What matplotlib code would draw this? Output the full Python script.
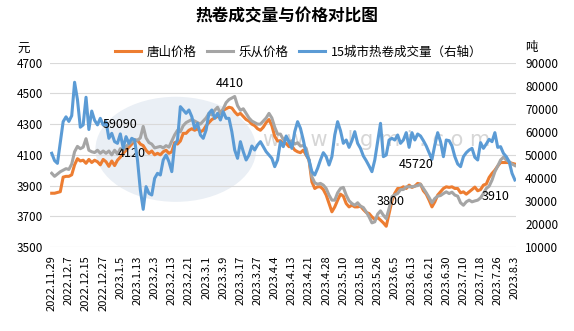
import matplotlib
matplotlib.use("Agg")
import matplotlib.pyplot as plt
from matplotlib.patches import Ellipse

plt.rcParams['font.family'] = ['Noto Sans CJK SC', 'DejaVu Sans']

# 唐山价格 (元/吨)
tangshan = [
    3850, 3850, 3855, 3860, 3955, 3960, 3960, 3970, 4035, 4075,
    4060, 4065, 4045, 4070, 4050, 4065, 4055, 4035, 4070, 4055,
    4025, 4060, 4030, 4065, 4085, 4110, 4130, 4150, 4170, 4190,
    4195, 4170, 4160, 4130, 4110, 4125, 4100, 4110, 4100, 4120,
    4130, 4110, 4120, 4180, 4170, 4190, 4240, 4240, 4260, 4270,
    4260, 4270, 4250, 4260, 4290, 4310, 4330, 4340, 4350, 4380,
    4390, 4400, 4410, 4405, 4380, 4360, 4370, 4350, 4330, 4320,
    4300, 4290, 4270, 4260, 4280, 4310, 4330, 4290, 4220, 4190,
    4192, 4170, 4174, 4153, 4157, 4131, 4120, 4114, 4131, 4098,
    4066, 3924, 3881, 3892, 3892, 3874, 3838, 3783, 3729, 3761,
    3805, 3844, 3831, 3783, 3761, 3772, 3761, 3761, 3766, 3744,
    3725, 3718, 3696, 3679, 3692, 3675, 3657, 3635, 3718, 3800,
    3850, 3881, 3881, 3892, 3881, 3903, 3888, 3896, 3914, 3909,
    3866, 3844, 3805, 3761, 3794, 3838, 3859, 3881, 3892, 3888,
    3892, 3881, 3881, 3853, 3859, 3844, 3859, 3874, 3890, 3866,
    3874, 3903, 3910, 3953, 3979, 4000, 4027, 4050, 4050, 4050,
    4050, 4045, 4040,
]

# 乐从价格 (元/吨)
lecong = [
    3980, 3960, 3975, 3990, 4000, 4010, 4005, 4040, 4120, 4155,
    4140, 4150, 4205, 4130, 4120, 4115, 4130, 4110, 4125, 4110,
    4125, 4100, 4130, 4105, 4140, 4130, 4155, 4170, 4185, 4200,
    4195, 4210, 4285, 4210, 4180, 4170, 4145, 4150, 4155, 4145,
    4160, 4150, 4190, 4230, 4260, 4250, 4290, 4310, 4320, 4330,
    4320, 4310, 4300, 4320, 4340, 4370, 4360, 4390, 4410, 4370,
    4400, 4440, 4460, 4470, 4480, 4420, 4390, 4400, 4370, 4340,
    4320, 4310, 4300, 4300, 4320, 4340, 4370, 4340, 4280, 4235,
    4235, 4200, 4213, 4179, 4192, 4170, 4179, 4157, 4161, 4142,
    4066, 3957, 3918, 3909, 3914, 3903, 3881, 3838, 3805, 3805,
    3853, 3881, 3888, 3838, 3801, 3783, 3772, 3788, 3766, 3757,
    3729, 3696, 3657, 3664, 3714, 3735, 3707, 3685, 3751, 3827,
    3840, 3848, 3874, 3874, 3892, 3892, 3892, 3896, 3900, 3909,
    3881, 3853, 3822, 3788, 3816, 3831, 3835, 3848, 3859, 3848,
    3857, 3838, 3831, 3788, 3772, 3794, 3805, 3794, 3800, 3805,
    3820, 3848, 3881, 3896, 3935, 3990, 4027, 4066, 4085, 4066,
    4055, 4040, 4030,
]

# 15城市热卷成交量 (吨, 右轴)
volume = [
    50680, 47500, 46300, 55500, 64400, 66500, 64500, 67000, 81500, 74000,
    62000, 63000, 75000, 61000, 69000, 65000, 63000, 65850, 62950, 64400,
    57170, 59340, 55720, 55000, 59090, 53000, 57890, 55000, 57170, 56440,
    47760, 34740, 26350, 36190, 33290, 32570, 39800, 41970, 41250, 47760,
    49930, 47040, 42700, 54270, 56440, 70920, 69470, 68020, 69470, 66570,
    61510, 63680, 58620, 57170, 60780, 68020, 69470, 65850, 68020, 65130,
    68740, 65850, 65850, 60060, 52100, 48490, 55720, 51380, 47760, 49930,
    53840, 52100, 54270, 55720, 53550, 51380, 49930, 48490, 44870, 47760,
    55720, 53550, 58180, 55720, 52820, 60060, 64400, 61510, 56440, 50370,
    47760, 42700, 41250, 44140, 47760, 50940, 49210, 45590, 49210, 58620,
    64400, 60500, 55000, 56440, 53260, 56150, 60060, 55000, 52820, 49500,
    47470, 45160, 42700, 47760, 55720, 63680, 49210, 49930, 56440, 57170,
    56440, 58620, 55000, 56440, 59630, 53260, 59630, 56440, 59050, 58180,
    56150, 53840, 50940, 48050, 54270, 59630, 55720, 49210, 56440, 56150,
    53840, 49210, 46030, 44870, 49210, 50940, 52100, 52820, 48920, 47760,
    55290, 52820, 54700, 56730, 55720, 59630, 53260, 53550, 50660, 49210,
    47040, 41970, 39100,
]

# 横轴标签（每6个交易日一个）
tick_labels = [
    "2022.11.29", "2022.12.7", "2022.12.15", "2022.12.27", "2023.1.5", "2023.1.13",
    "2023.2.3", "2023.2.13", "2023.2.21", "2023.3.1", "2023.3.9", "2023.3.17",
    "2023.3.27", "2023.4.4", "2023.4.13", "2023.4.21", "2023.4.28", "2023.5.10",
    "2023.5.18", "2023.5.26", "2023.6.5", "2023.6.13", "2023.6.21", "2023.6.30",
    "2023.7.10", "2023.7.18", "2023.7.26", "2023.8.3",
]
tick_step = 6

# 图中的数值标注: (文字, 序号, 数值)
price_notes = [("4120", 28, 4110), ("4410", 62.3, 4566), ("3800", 118.5, 3795), ("3910", 155.3, 3830)]
volume_notes = [("59090", 24, 62960), ("45720", 127.6, 45720)]

x = list(range(len(volume)))

fig = plt.figure(figsize=(5.74, 3.31), dpi=100)
ax = fig.add_axes([0.0871, 0.2538, 0.8119, 0.5568])
ax2 = ax.twinx()

# 背景水印
ax.add_patch(Ellipse((0.27, 0.53), 0.345, 0.57, transform=ax.transAxes,
                     facecolor="#eaeff5", edgecolor="none", zorder=0))
ax.text(0.70, 0.58, "w w w . l g m i . c o m", transform=ax.transAxes,
        fontsize=15, color="#d6d6d6", ha="center", va="center", zorder=0,
        family="DejaVu Sans")

l1, = ax.plot(x, tangshan, color="#ED7D31", lw=2.2, label="唐山价格", zorder=3)
l2, = ax.plot(x, lecong, color="#A5A5A5", lw=2.2, label="乐从价格", zorder=4)
l3, = ax2.plot(x, volume, color="#5B9BD5", lw=2.2, label="15城市热卷成交量（右轴）")

ax.set_ylim(3500, 4700)
ax.set_yticks(range(3500, 4701, 200))
ax2.set_ylim(10000, 90000)
ax2.set_yticks(range(10000, 90001, 10000))
ax.set_xlim(-0.6, len(x) - 1 + 0.4)

ax.set_xticks(x[::tick_step])
ax.set_xticklabels(tick_labels, rotation=90, fontsize=8)
ax.grid(axis="y", color="#D9D9D9", lw=0.8)
ax.set_axisbelow(True)

for a in (ax, ax2):
    for s in a.spines.values():
        s.set_visible(False)
    a.tick_params(length=0, labelsize=8.5)
ax.tick_params(axis="y", pad=5)
ax2.tick_params(axis="y", pad=6.5)
ax.tick_params(axis="x", pad=6, labelsize=8)

for txt, i, v in price_notes:
    ax.text(i, v, txt, ha="center", va="center", fontsize=9, zorder=6)
for txt, i, v in volume_notes:
    ax2.text(i, v, txt, ha="center", va="center", fontsize=9, zorder=6)

fig.text(0.03, 0.85, "元", fontsize=9, ha="left", va="center")
fig.text(0.915, 0.858, "吨", fontsize=9, ha="left", va="center")

fig.suptitle("热卷成交量与价格对比图", fontsize=12, fontweight="bold", y=0.95, x=0.5, va="center")
fig.legend(handles=[l1, l2, l3], loc="center", bbox_to_anchor=(0.52, 0.843), ncol=3,
           frameon=False, fontsize=9, handlelength=2.1, handletextpad=0.45,
           columnspacing=0.8)

fig.savefig("out.png", dpi=100)
